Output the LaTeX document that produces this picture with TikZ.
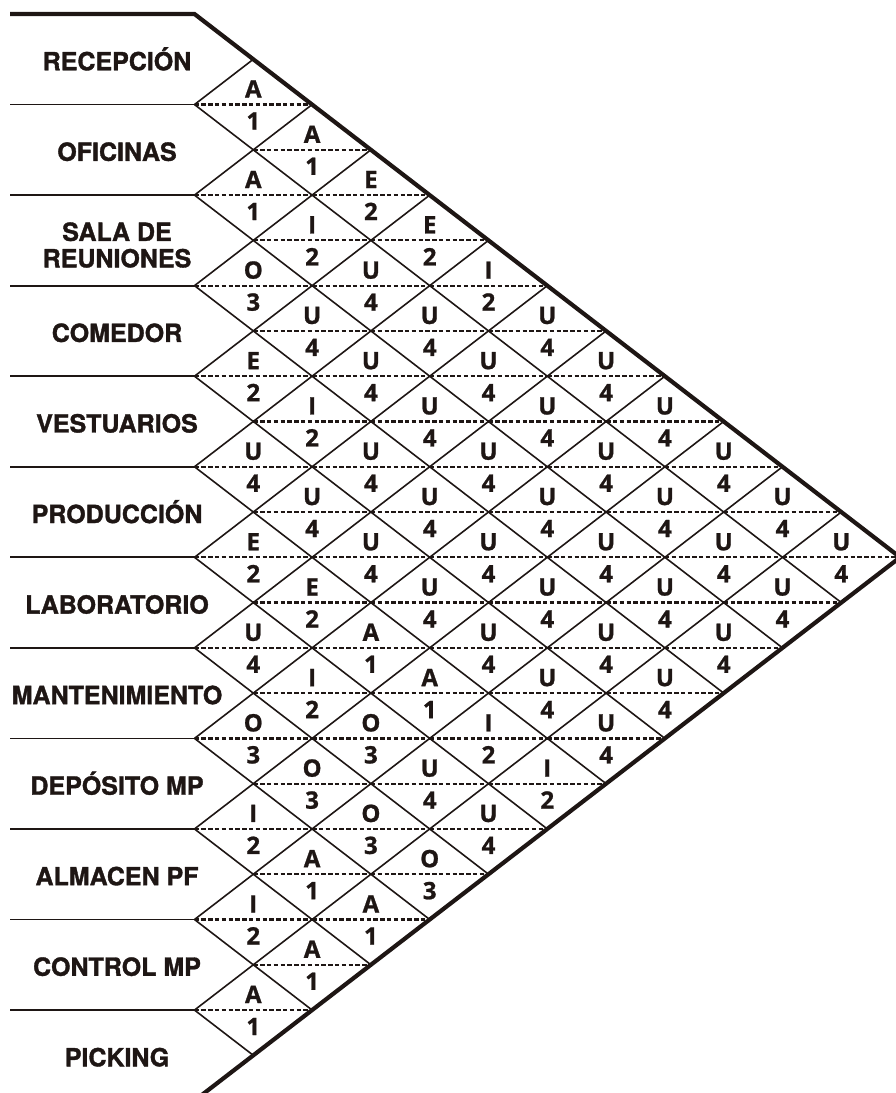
\documentclass[tikz,border=0pt]{standalone}
\usepackage{fontspec}
\setmainfont{TeX Gyre Heros}
\newfontfamily\deptfont[FakeBold=1.4]{TeX Gyre Heros Bold}
\newfontfamily\relfont[FakeBold=1]{Open Sans Bold}
\definecolor{ink}{RGB}{30,22,20}
\begin{document}
\begin{tikzpicture}[x=1pt,y=-1pt,
  border/.style={line width=4.2pt, draw=ink, line join=miter},
  gridline/.style={line width=1.6pt, draw=ink},
  rowline/.style={line width=1.8pt, draw=ink},
  dashline/.style={line width=2.2pt, draw=ink, dash pattern=on 4.5pt off 2.3pt},
  dept/.style={font=\deptfont\fontsize{25}{27}\selectfont, text=ink, inner sep=0pt, anchor=base},
  rel/.style={font=\relfont\fontsize{24}{26}\selectfont, text=ink, inner sep=0pt, anchor=base}]
\useasboundingbox (0,0) rectangle (896,1093);
\clip (0,0) rectangle (896,1093);
\def\xo{194.5}
\def\yo{14}
\def\W{58.8}
\def\H{90.55}
% lattice points
\foreach \k in {0,...,12}{
  \coordinate (L\k) at (\xo, \yo+\k*\H);
  \coordinate (R\k) at (10, \yo+\k*\H);
  \coordinate (T\k) at (\xo+\k*\W, \yo+\k*\H/2);
  \coordinate (B\k) at (\xo+12*\W-\k*\W, \yo+6*\H+\k*\H/2);
}
% dashed separators, relation codes
\foreach \i/\j/\l/\n in {
 1/2/A/1, 1/3/A/1, 1/4/E/2, 1/5/E/2, 1/6/I/2, 1/7/U/4, 1/8/U/4, 1/9/U/4, 1/10/U/4, 1/11/U/4, 1/12/U/4,
 2/3/A/1, 2/4/I/2, 2/5/U/4, 2/6/U/4, 2/7/U/4, 2/8/U/4, 2/9/U/4, 2/10/U/4, 2/11/U/4, 2/12/U/4,
 3/4/O/3, 3/5/U/4, 3/6/U/4, 3/7/U/4, 3/8/U/4, 3/9/U/4, 3/10/U/4, 3/11/U/4, 3/12/U/4,
 4/5/E/2, 4/6/I/2, 4/7/U/4, 4/8/U/4, 4/9/U/4, 4/10/U/4, 4/11/U/4, 4/12/U/4,
 5/6/U/4, 5/7/U/4, 5/8/U/4, 5/9/U/4, 5/10/U/4, 5/11/U/4, 5/12/U/4,
 6/7/E/2, 6/8/E/2, 6/9/A/1, 6/10/A/1, 6/11/I/2, 6/12/I/2,
 7/8/U/4, 7/9/I/2, 7/10/O/3, 7/11/U/4, 7/12/U/4,
 8/9/O/3, 8/10/O/3, 8/11/O/3, 8/12/O/3,
 9/10/I/2, 9/11/A/1, 9/12/A/1,
 10/11/I/2, 10/12/A/1,
 11/12/A/1}{
  \pgfmathsetmacro\cx{\xo+(\j-\i)*\W}
  \pgfmathsetmacro\cy{\yo+(\i+\j-1)*\H/2}
  \coordinate (dl\i-\j) at (\cx-\W,\cy);
  \coordinate (dr\i-\j) at (\cx+\W,\cy);
  \draw[dashline] (dl\i-\j) -- (dr\i-\j);
  \node[rel] (c\i-\j) at (\cx,\cy-7) {\l};
  \node[rel] (v\i-\j) at (\cx,\cy+25) {\n};
}
% grid diagonals and row lines
\foreach \k in {1,...,11}{
  \draw[gridline] (L\k) -- (T\k);
  \draw[gridline] (L\k) -- (B\k);
  \draw[rowline] (R\k) -- (L\k);
}
% outer border
\draw[border] (R0) -- (L0) -- (T12) -- (L12);
% department names
\foreach \k/\t in {1/RECEPCIÓN, 2/OFICINAS, 4/COMEDOR, 5/VESTUARIOS, 6/PRODUCCIÓN,
  7/LABORATORIO, 8/MANTENIMIENTO, 9/DEPÓSITO MP, 10/ALMACEN PF, 11/CONTROL MP, 12/PICKING}{
  \node[dept] (dep\k) at (117, \yo+\k*\H-\H/2+11) {\t};
}
\node[dept] (dep3a) at (117, \yo+2.5*\H+0.5) {SALA DE};
\node[dept] (dep3b) at (117, \yo+2.5*\H+27) {REUNIONES};
\end{tikzpicture}
\end{document}
